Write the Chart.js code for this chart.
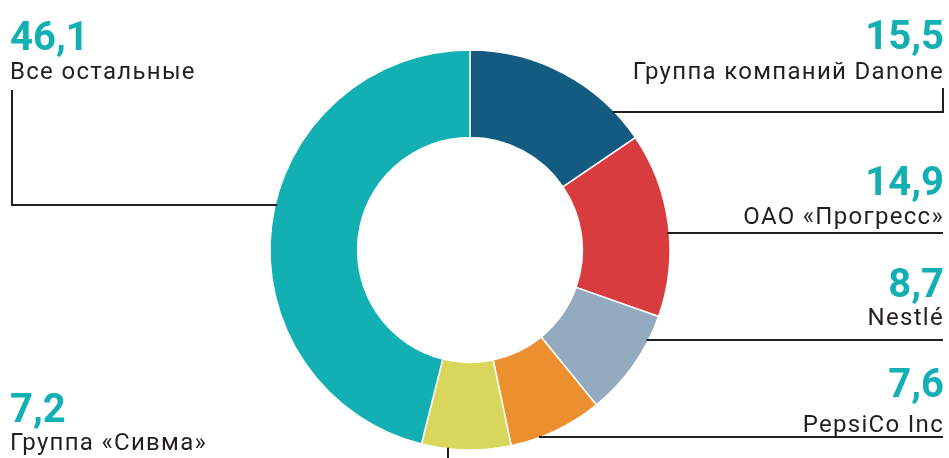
<!DOCTYPE html>
<html>
<head>
<meta charset="utf-8">
<script src="https://cdn.jsdelivr.net/npm/chart.js@4.4.1/dist/chart.umd.min.js"></script>
<style>
  html, body { margin: 0; padding: 0; background: #ffffff; }
  #wrap { width: 949px; height: 458px; }
</style>
</head>
<body>
<div id="wrap"><canvas id="c" width="949" height="458"></canvas></div>
<script>
// ---- data ----
const categories = ['Группа компаний Danone', 'ОАО «Прогресс»', 'Nestlé', 'PepsiCo Inc', 'Группа «Сивма»', 'Все остальные'];
const shares = [15.5, 14.9, 8.7, 7.6, 7.2, 46.1];
const sliceColors = ['#135b80', '#d93c3e', '#94aabf', '#ec8f2f', '#d9d75b', '#12b0b3'];

// ---- callout layout (positions only) ----
// side: 'R' right-aligned at x=943, 'L' left-aligned at x=10
const callouts = [
  { side: 'R', valueY: 49, labelY: 79, lineY: 112, hook: { x: 943, y1: 88 } },
  { side: 'R', valueY: 195, labelY: 224, lineY: 233 },
  { side: 'R', valueY: 297, labelY: 325, lineY: 340 },
  { side: 'R', valueY: 397, labelY: 432, lineY: 437 },
  { side: 'L', valueY: 422, labelY: 450, drop: { x: 448, y2: 460 } },
  { side: 'L', valueY: 50, labelY: 79, lineY: 205, hook: { x: 12, y1: 90 } }
];

const fmt = v => v.toFixed(1).replace('.', ',');

const calloutPlugin = {
  id: 'callouts',
  afterDraw(chart) {
    const ctx = chart.ctx;
    const arc = chart.getDatasetMeta(0).data[0];
    const cx = arc.x, cy = arc.y, R = arc.outerRadius;
    ctx.save();
    ctx.strokeStyle = '#231f20';
    ctx.lineWidth = 2;
    callouts.forEach((c, i) => {
      const right = c.side === 'R';
      const tx = right ? 943 : 10;
      ctx.textAlign = right ? 'right' : 'left';
      ctx.textBaseline = 'alphabetic';
      // value
      ctx.fillStyle = '#13b0b3';
      ctx.font = 'bold 40px Roboto';
      ctx.letterSpacing = '0px';
      ctx.fillText(fmt(shares[i]), tx + (right ? 1 : 0), c.valueY);
      // label
      ctx.fillStyle = '#231f20';
      ctx.font = '24px Roboto';
      ctx.letterSpacing = '1.3px';
      ctx.fillText(categories[i], right ? tx + 1 : tx, c.labelY);
      ctx.letterSpacing = '0px';
      // leader line
      ctx.beginPath();
      if (c.lineY !== undefined) {
        const dy = c.lineY - cy;
        const dx = Math.sqrt(Math.max(R * R - dy * dy, 0));
        const ex = right ? cx + dx - 2 : cx - dx + 2;
        const endX = right ? 943 : 12;
        ctx.moveTo(ex, c.lineY);
        ctx.lineTo(endX, c.lineY);
        if (c.hook) ctx.lineTo(c.hook.x, c.hook.y1);
      }
      if (c.drop) {
        const ddx = c.drop.x - cx;
        const ey = cy + Math.sqrt(Math.max(R * R - ddx * ddx, 0)) - 1;
        ctx.moveTo(c.drop.x, ey);
        ctx.lineTo(c.drop.x, c.drop.y2);
      }
      ctx.stroke();
    });
    ctx.restore();
  }
};

new Chart(document.getElementById('c'), {
  type: 'doughnut',
  data: {
    labels: categories,
    datasets: [{
      data: shares,
      backgroundColor: sliceColors,
      borderColor: '#ffffff',
      borderWidth: 1.5,
      hoverOffset: 0
    }]
  },
  options: {
    responsive: false,
    animation: false,
    radius: 200,
    cutout: 112,
    rotation: 0,
    layout: { padding: { left: 270, right: 279, top: 50, bottom: 8 } },
    plugins: {
      legend: { display: false },
      tooltip: { enabled: false }
    }
  },
  plugins: [calloutPlugin]
});
</script>
</body>
</html>
